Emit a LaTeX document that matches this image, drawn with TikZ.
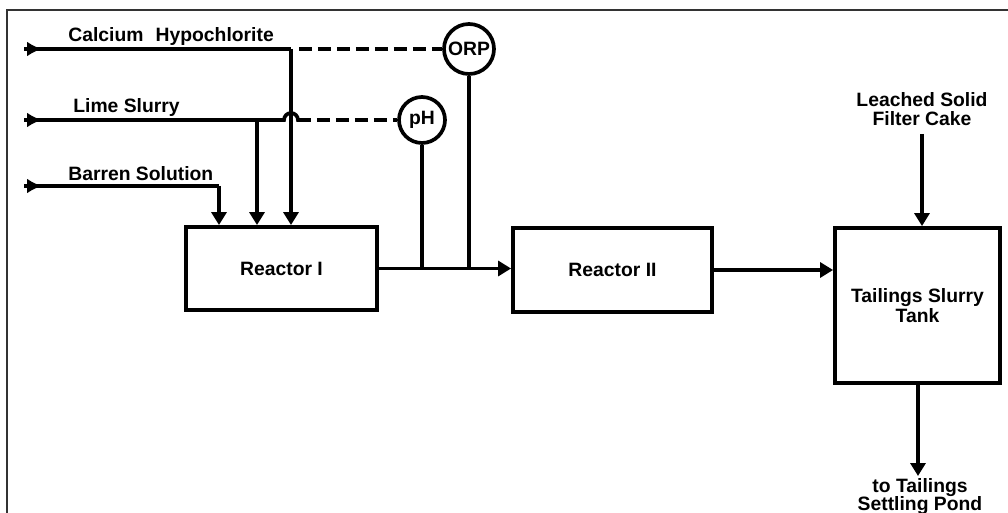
\documentclass[tikz,border=0pt]{standalone}
\usepackage{fontspec}
\setmainfont{Liberation Sans}
\usetikzlibrary{arrows.meta}
\begin{document}
\begin{tikzpicture}[x=0.02cm,y=-0.02cm,
  flow/.style={line width=2.1pt},
  arr/.style={flow, -{Triangle[length=0.26cm,width=0.3cm]}},
  startmark/.style={line width=2.1pt, -{Latex[length=0.3cm,width=0.3cm]}},
  sig/.style={line width=1.9pt, dash pattern=on 0.26cm off 0.12cm},
  box/.style={draw, line width=2.2pt, minimum width=#1, inner sep=0pt, font=\bfseries\fontsize{11}{11.5}\selectfont, align=center},
  inst/.style={draw, circle, line width=2.1pt, inner sep=0pt, font=\bfseries\fontsize{11}{13}\selectfont},
  lab/.style={font=\bfseries\fontsize{11}{10.5}\selectfont, inner sep=0pt, align=center}]
\useasboundingbox (0,0) rectangle (1008,513);
% frame
\draw[line width=0.8pt, black!80] (1008,10) -- (7,10) -- (7,513);

% nodes
\node[box=3.82cm, minimum height=1.66cm] (R1) at (281.5,268.5) {Reactor I};
\node[box=3.98cm, minimum height=1.68cm] (R2) at (612.5,270) {Reactor II};
\node[box=3.30cm, minimum height=3.10cm] (T) at (917.5,305.5) {Tailings Slurry\\Tank};
\node[inst, minimum size=1.0cm] (ORP) at (469,49) {ORP};
\node[inst, minimum size=0.92cm] (PH) at (422,120) {pH};

% labels
\node[lab, anchor=west] (Lca) at (68,37) {Calcium\hspace{0.35em} Hypochlorite};
\node[lab, anchor=west] (Lli) at (73,108) {Lime Slurry};
\node[lab, anchor=west] (Lba) at (68,174) {Barren Solution};
\node[lab] (Lfc) at (922,109) {Leached Solid\\Filter Cake};
\node[lab, anchor=north] (Lto) at (920,478) {to Tailings\\Settling Pond};

% coordinates
\coordinate (s1) at (24,49);
\coordinate (s2) at (24,120);
\coordinate (s3) at (24,186);
\coordinate (j1) at (291,49);
\coordinate (j2) at (257,120);
\coordinate (j3) at (219,186);
\coordinate (b1) at (284,120);
\coordinate (b2) at (298,120);
\coordinate (m1) at (42,49);
\coordinate (m2) at (42,120);
\coordinate (m3) at (42,186);
\coordinate (fc) at (922,134);
\coordinate (to) at (918,476);
\coordinate (k1) at (R1.east);
\coordinate (pj) at (PH.south |- k1);
\coordinate (oj) at (ORP.south |- k1);

% feed lines
\draw[flow] (s1) -- (j1);
\draw[flow] (s2) -- (b1) arc[start angle=180, end angle=0, radius=0.14cm] -- (b2);
\draw[flow] (s3) -- (j3);
\draw[startmark] (s1) -- (m1);
\draw[startmark] (s2) -- (m2);
\draw[startmark] (s3) -- (m3);
\draw[arr] (j1) -- (j1 |- R1.north);
\draw[arr] (j2) -- (j2 |- R1.north);
\draw[arr] (j3) -- (j3 |- R1.north);

% signal lines
\draw[sig] (299,49) -- (ORP.west);
\draw[sig] (b2) -- (PH.west);
\draw[flow] (PH.south) -- (pj);
\draw[flow] (ORP.south) -- (oj);

% main flow
\draw[arr] (R1.east) -- (R1.east -| R2.west);
\draw[arr] (R2.east) -- (R2.east -| T.west);
\draw[arr] (fc) -- (fc |- T.north);
\draw[arr] (T.south -| to) -- (to);
\end{tikzpicture}
\end{document}
